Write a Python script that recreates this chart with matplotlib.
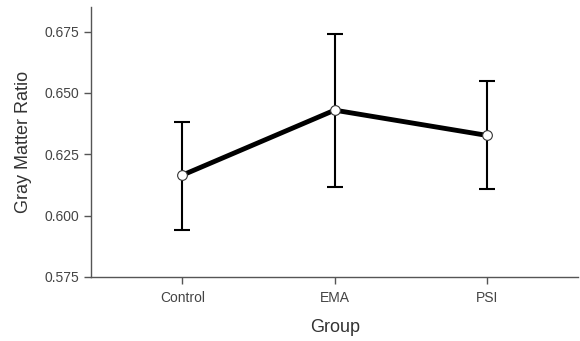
import matplotlib
matplotlib.use("Agg")
import matplotlib.pyplot as plt

plt.rcParams["font.family"] = ["Liberation Sans", "DejaVu Sans"]

# group means and error bar bounds
groups = ["Control", "EMA", "PSI"]
means = [0.6165, 0.6430, 0.6327]
lower = [0.5941, 0.6118, 0.6107]
upper = [0.6382, 0.6742, 0.6548]

yticks = [0.575, 0.600, 0.625, 0.650, 0.675]

x = list(range(len(groups)))
err = [[m - lo for m, lo in zip(means, lower)], [hi - m for m, hi in zip(means, upper)]]

fig = plt.figure(figsize=(5.8, 3.41), dpi=100)
ax = fig.add_axes([0.157, 0.188, 0.84, 0.791])

ax.errorbar(x, means, yerr=err, fmt="none", ecolor="black", elinewidth=1.5,
            capsize=6, capthick=1.5, zorder=2)
ax.plot(x, means, color="black", linewidth=3.5, zorder=3)
ax.plot(x, means, linestyle="none", marker="o", markersize=7,
        markerfacecolor="white", markeredgecolor="#333333", markeredgewidth=0.8, zorder=4)

ax.set_xlim(-0.6, 2.6)
ax.set_ylim(0.575, 0.685)
ax.set_xticks(x)
ax.set_xticklabels(groups)
ax.set_yticks(yticks)
ax.set_yticklabels([f"{t:.3f}" for t in yticks])

ax.set_xlabel("Group", fontsize=13, color="#333333", labelpad=10)
ax.set_ylabel("Gray Matter Ratio", fontsize=13, color="#333333", labelpad=9)

for side in ["top", "right"]:
    ax.spines[side].set_visible(False)
for side in ["left", "bottom"]:
    ax.spines[side].set_color("#555555")
    ax.spines[side].set_linewidth(1)

ax.tick_params(axis="both", colors="#555555", labelcolor="#444444", labelsize=10,
               length=5, width=1, direction="out")
ax.tick_params(axis="x", pad=5)

fig.savefig("out.png", dpi=100)
